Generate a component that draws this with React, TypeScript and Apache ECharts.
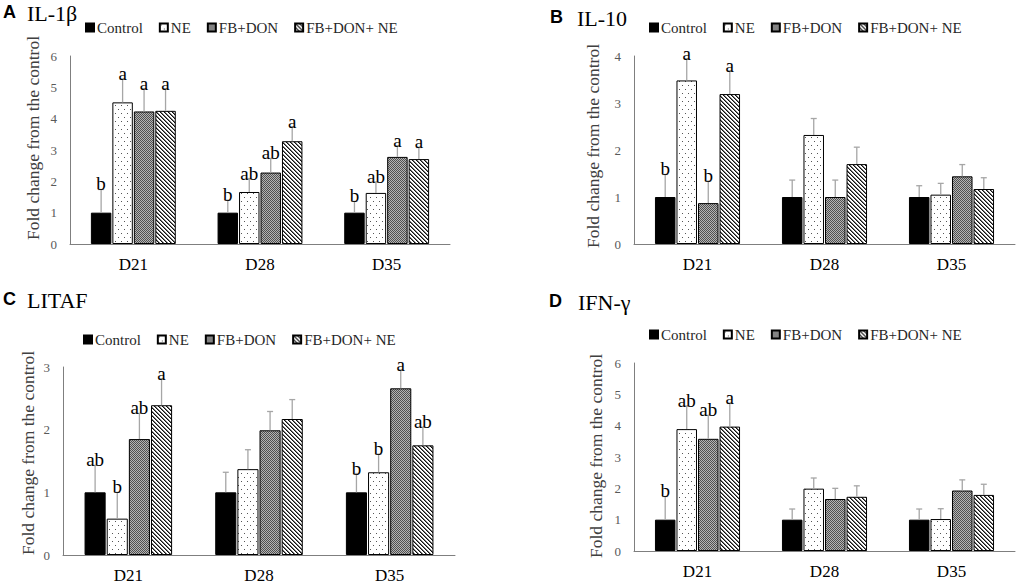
import React, { useEffect, useRef } from "react";
import * as echarts from "echarts";

const categories = ["D21", "D28", "D35"];
const groups = ["Control", "NE", "FB+DON", "FB+DON+ NE"];

// Panel A: IL-1β (rows = groups, cols = D21, D28, D35)
const il1bMean = [
  [1.0, 1.0, 1.0],
  [4.52, 1.66, 1.63],
  [4.23, 2.28, 2.78],
  [4.25, 3.28, 2.71],
];
const il1bSE = [
  [0.74, 0.4, 0.36],
  [0.74, 0.43, 0.35],
  [0.73, 0.45, 0.35],
  [0.71, 0.46, 0.37],
];
const il1bLetters = [
  ["b", "b", "b"],
  ["a", "ab", "ab"],
  ["a", "ab", "a"],
  ["a", "a", "a"],
];

// Panel B: IL-10
const il10Mean = [
  [1.0, 1.0, 1.0],
  [3.48, 2.32, 1.05],
  [0.87, 1.0, 1.44],
  [3.19, 1.7, 1.17],
];
const il10SE = [
  [0.48, 0.36, 0.24],
  [0.46, 0.35, 0.24],
  [0.47, 0.36, 0.25],
  [0.49, 0.36, 0.24],
];
const il10Letters = [
  ["b", "", ""],
  ["a", "", ""],
  ["b", "", ""],
  ["a", "", ""],
];

// Panel C: LITAF
const litafMean = [
  [1.0, 1.0, 1.0],
  [0.58, 1.37, 1.32],
  [1.85, 1.99, 2.66],
  [2.39, 2.17, 1.75],
];
const litafSE = [
  [0.43, 0.32, 0.3],
  [0.42, 0.31, 0.29],
  [0.41, 0.3, 0.29],
  [0.42, 0.31, 0.29],
];
const litafLetters = [
  ["ab", "", "b"],
  ["b", "", "b"],
  ["ab", "", "a"],
  ["a", "", "ab"],
];

// Panel D: IFN-γ
const ifngMean = [
  [1.0, 1.0, 1.0],
  [3.89, 1.99, 1.02],
  [3.58, 1.66, 1.93],
  [3.97, 1.73, 1.79],
];
const ifngSE = [
  [0.74, 0.34, 0.34],
  [0.74, 0.34, 0.33],
  [0.75, 0.34, 0.34],
  [0.74, 0.35, 0.34],
];
const ifngLetters = [
  ["b", "", ""],
  ["ab", "", ""],
  ["ab", "", ""],
  ["a", "", ""],
];

const SERIF = "Liberation Serif";
const SANS = "Liberation Sans";
const CAT_GAP = 0.33;
const BAR_GAP = 0.05;

function makeTile(w: number, h: number, draw: (ctx: CanvasRenderingContext2D) => void) {
  const c = document.createElement("canvas");
  c.width = w;
  c.height = h;
  const ctx = c.getContext("2d")!;
  draw(ctx);
  return c;
}

function buildFills() {
  const dots = makeTile(6, 8, (ctx) => {
    ctx.fillStyle = "#ffffff";
    ctx.fillRect(0, 0, 6, 8);
    ctx.fillStyle = "#555555";
    ctx.fillRect(1, 1, 1, 1);
    ctx.fillRect(4, 5, 1, 1);
  });
  const checker = makeTile(2, 2, (ctx) => {
    ctx.fillStyle = "#b4b4b4";
    ctx.fillRect(0, 0, 2, 2);
    ctx.fillStyle = "#505050";
    ctx.fillRect(0, 0, 1, 1);
    ctx.fillRect(1, 1, 1, 1);
  });
  const stripes = makeTile(4, 4, (ctx) => {
    ctx.fillStyle = "#ffffff";
    ctx.fillRect(0, 0, 4, 4);
    for (let i = 0; i < 4; i++) {
      ctx.fillStyle = "#111111";
      ctx.fillRect(i, i, 1, 1);
      ctx.fillStyle = "#777777";
      ctx.fillRect((i + 1) % 4, i, 1, 1);
    }
  });
  return [
    "#000000",
    { image: dots, repeat: "repeat" },
    { image: checker, repeat: "repeat" },
    { image: stripes, repeat: "repeat" },
  ];
}

type Panel = {
  mean: number[][];
  se: number[][];
  letters: string[][];
  max: number;
  grid: { left: number; top: number; width: number; height: number };
  legend: { left: number; top: number };
};

const panels: Panel[] = [
  { mean: il1bMean, se: il1bSE, letters: il1bLetters, max: 6, grid: { left: 70, top: 56, width: 380, height: 188 }, legend: { left: 85, top: 20 } },
  { mean: il10Mean, se: il10SE, letters: il10Letters, max: 4, grid: { left: 634, top: 56, width: 381, height: 188 }, legend: { left: 649, top: 20 } },
  { mean: litafMean, se: litafSE, letters: litafLetters, max: 3, grid: { left: 63, top: 367, width: 392, height: 189 }, legend: { left: 83, top: 332 } },
  { mean: ifngMean, se: ifngSE, letters: ifngLetters, max: 6, grid: { left: 634, top: 363, width: 381, height: 188 }, legend: { left: 649, top: 327 } },
];

const titles = [
  { letter: "A", name: "IL-1β", lx: 3, nx: 27, y: 12 },
  { letter: "B", name: "IL-10", lx: 550, nx: 577, y: 17 },
  { letter: "C", name: "LITAF", lx: 3, nx: 27, y: 299 },
  { letter: "D", name: "IFN-γ", lx: 549, nx: 578, y: 301 },
];

const yNames = [
  { x: 33, y: 138 },
  { x: 593, y: 146 },
  { x: 28, y: 453 },
  { x: 596, y: 456 },
];

export default function App() {
  const ref = useRef<HTMLDivElement>(null);
  useEffect(() => {
    if (!ref.current) return;
    const chart = echarts.init(ref.current, null, { renderer: "svg" });
    const fills = buildFills();

    const grid: any[] = [];
    const xAxis: any[] = [];
    const yAxis: any[] = [];
    const series: any[] = [];
    const legend: any[] = [];

    panels.forEach((p, pi) => {
      grid.push({ ...p.grid, containLabel: false });
      xAxis.push({
        type: "category",
        gridIndex: pi,
        data: categories,
        axisLine: { show: true, lineStyle: { color: "#7f7f7f", width: 1 } },
        axisTick: { show: false },
        axisLabel: { color: "#000", fontFamily: SERIF, fontWeight: "normal", fontSize: 17, margin: 12 },
      });
      yAxis.push({
        type: "value",
        gridIndex: pi,
        min: 0,
        max: p.max,
        interval: 1,
        splitLine: { show: false },
        axisLine: { show: true, lineStyle: { color: "#7f7f7f", width: 1 } },
        axisTick: { show: false },
        axisLabel: { color: "#595959", fontFamily: SERIF, fontSize: 13, margin: 13 },
      });
      legend.push({
        left: p.legend.left,
        top: p.legend.top,
        padding: 0,
        data: groups,
        icon: "rect",
        itemWidth: 8,
        itemHeight: 8,
        itemGap: 16,
        selectedMode: false,
        textStyle: { fontFamily: SERIF, fontSize: 15, color: "#262626", padding: [0, 0, 0, -2] },
      });
      groups.forEach((g, gi) => {
        series.push({
          type: "bar",
          name: g,
          xAxisIndex: pi,
          yAxisIndex: pi,
          data: p.mean[gi],
          barCategoryGap: CAT_GAP * 100 + "%",
          barGap: BAR_GAP * 100 + "%",
          itemStyle: { color: fills[gi], borderColor: "#000", borderWidth: 1 },
          z: 2,
        });
      });
      const errData: number[][] = [];
      const errLetters: string[] = [];
      groups.forEach((_, gi) => {
        categories.forEach((_, ci) => {
          errData.push([ci, p.mean[gi][ci], p.mean[gi][ci] + p.se[gi][ci], gi]);
          errLetters.push(p.letters[gi][ci]);
        });
      });
      series.push({
        type: "custom",
        xAxisIndex: pi,
        yAxisIndex: pi,
        data: errData,
        encode: { x: 0, y: 1 },
        z: 5,
        silent: true,
        renderItem: (params: any, api: any) => {
          const ci = api.value(0);
          const mean = api.value(1);
          const top = api.value(2);
          const gi = api.value(3);
          const base = api.coord([ci, mean]);
          const tp = api.coord([ci, top]);
          const catW = api.size([1, 0])[0];
          const groupW = catW * (1 - CAT_GAP);
          const bw = groupW / (4 + 3 * BAR_GAP);
          const x = base[0] - groupW / 2 + bw / 2 + gi * bw * (1 + BAR_GAP);
          const children: any[] = [
            { type: "line", shape: { x1: x, y1: base[1], x2: x, y2: tp[1] }, style: { stroke: "#a6a6a6", lineWidth: 1.3 } },
            { type: "line", shape: { x1: x - 3, y1: tp[1], x2: x + 3, y2: tp[1] }, style: { stroke: "#a6a6a6", lineWidth: 1.3 } },
          ];
          const letter = errLetters[params.dataIndex];
          if (letter) {
            children.push({
              type: "text",
              x: x,
              y: tp[1] + 4,
              style: { text: letter, fill: "#000", fontFamily: SERIF, fontSize: 19, textAlign: "center", textVerticalAlign: "bottom" },
            });
          }
          return { type: "group", children };
        },
      });
    });

    const graphic: any[] = [];
    titles.forEach((t) => {
      graphic.push({
        type: "text",
        x: t.lx,
        y: t.y,
        style: { text: t.letter, fill: "#000", fontFamily: SANS, fontWeight: "bold", fontSize: 18, textVerticalAlign: "middle" },
      });
      graphic.push({
        type: "text",
        x: t.nx,
        y: t.y + 1,
        style: { text: t.name, fill: "#000", fontFamily: SERIF, fontSize: 22, textVerticalAlign: "middle" },
      });
    });
    yNames.forEach((n) => {
      graphic.push({
        type: "text",
        x: n.x,
        y: n.y,
        rotation: Math.PI / 2,
        style: { text: "Fold change from the control", fill: "#404040", fontFamily: SERIF, fontSize: 17.5, textAlign: "center", textVerticalAlign: "middle" },
      });
    });

    chart.setOption({
      animation: false,
      backgroundColor: "#ffffff",
      textStyle: { fontFamily: SERIF },
      grid,
      xAxis,
      yAxis,
      legend,
      series,
      graphic,
    });
    return () => chart.dispose();
  }, []);
  return <div ref={ref} style={{ position: "absolute", left: 0, top: 0, width: 1017, height: 584 }} />;
}
